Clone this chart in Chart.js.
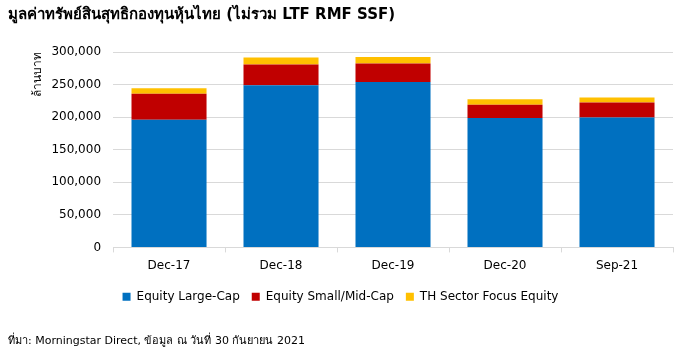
<!DOCTYPE html>
<html>
<head>
<meta charset="utf-8">
<script src="https://cdn.jsdelivr.net/npm/chart.js@4"></script>
<style>
  html, body { margin: 0; padding: 0; background: #fff; }
  #wrap { width: 685px; height: 352px; }
</style>
</head>
<body>
<div id="wrap"><canvas id="chart"></canvas></div>
<script>
// === DATA ===
const periods = ['Dec-17', 'Dec-18', 'Dec-19', 'Dec-20', 'Sep-21'];
const largeCap = [196000, 249000, 254000, 198500, 199500];
const smallMidCap = [40000, 32000, 28500, 20500, 23000];
const sectorFocus = [8500, 10500, 10000, 8500, 7500];

const FONT = 'Tahoma, "DejaVu Sans", sans-serif';

let ctx = document.getElementById('chart').getContext('2d');
let chart = new Chart(ctx, {
    type: 'bar',
    data: {
        labels: periods,
        datasets: [
            { label: 'Equity Large-Cap', data: largeCap, backgroundColor: '#0070C0' },
            { label: 'Equity Small/Mid-Cap', data: smallMidCap, backgroundColor: '#C00000' },
            { label: 'TH Sector Focus Equity', data: sectorFocus, backgroundColor: '#FFC000' }
        ]
    },
    options: {
        responsive: true,
        maintainAspectRatio: false,
        animation: false,
        devicePixelRatio: 1,
        layout: { padding: { left: 8, right: 12, top: 4, bottom: 4 } },
        datasets: {
            bar: { barPercentage: 0.67, categoryPercentage: 1, borderWidth: 0 }
        },
        scales: {
            x: {
                stacked: true,
                grid: { display: true, drawOnChartArea: false, offset: true, tickLength: 5, color: '#d9d9d9' },
                border: { display: true, color: '#d9d9d9' },
                ticks: { color: '#000', font: { family: FONT, size: 12 }, padding: 6 }
            },
            y: {
                stacked: true,
                min: 0,
                max: 300000,
                grid: { color: '#d9d9d9', drawTicks: false },
                border: { display: false },
                ticks: {
                    stepSize: 50000,
                    color: '#000',
                    padding: 12,
                    font: { family: FONT, size: 12 },
                    callback: v => v.toLocaleString('en-US')
                },
                title: {
                    display: true,
                    text: 'ล้านบาท',
                    align: 'end',
                    color: '#000',
                    font: { family: FONT, size: 12 },
                    padding: { top: 23, bottom: -6 }
                }
            }
        },
        plugins: {
            title: {
                display: true,
                text: 'มูลค่าทรัพย์สินสุทธิกองทุนหุ้นไทย (ไม่รวม LTF RMF SSF)',
                align: 'start',
                color: '#000',
                font: { family: FONT, size: 15, weight: 'bold' },
                padding: { top: 2, bottom: 28 }
            },
            subtitle: {
                display: true,
                position: 'bottom',
                text: 'ที่มา: Morningstar Direct, ข้อมูล ณ วันที่ 30 กันยายน 2021',
                align: 'start',
                color: '#000',
                font: { family: FONT, size: 11 },
                padding: { top: 22, bottom: 0 }
            },
            legend: {
                position: 'bottom',
                labels: {
                    color: '#000',
                    font: { family: FONT, size: 12 },
                    boxWidth: 8,
                    boxHeight: 8,
                    padding: 12
                }
            },
            tooltip: { enabled: false }
        }
    }
});
</script>
</body>
</html>
